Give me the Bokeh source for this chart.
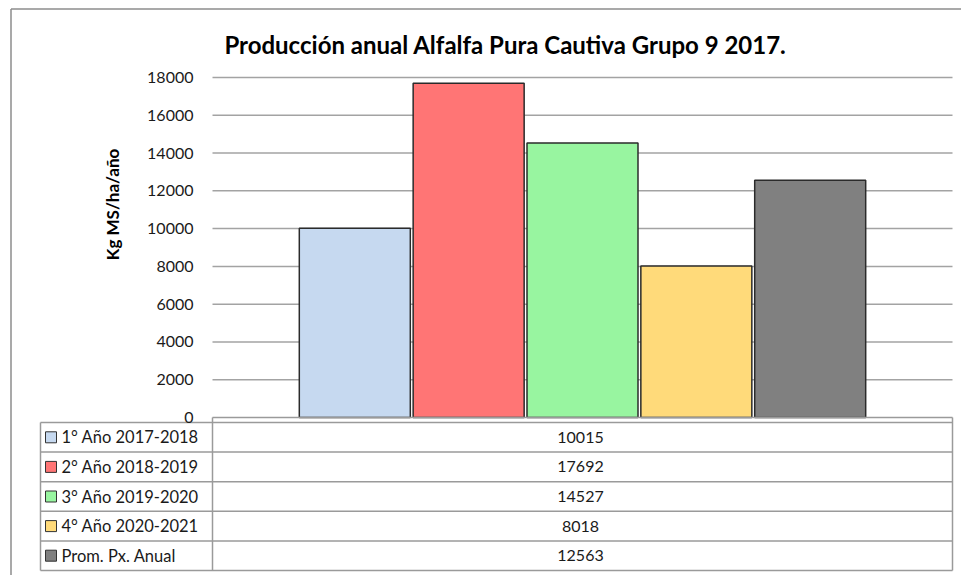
import numpy as np
from bokeh.plotting import figure
from bokeh.models import LinearAxis, FixedTicker, Range1d
from bokeh.core.properties import value
from bokeh.embed import file_html
from bokeh.resources import INLINE

# ---------------- data ----------------
title_text = "Producción anual Alfalfa Pura Cautiva Grupo 9 2017."
y_label = "Kg MS/ha/año"
series_names = ["1° Año 2017-2018", "2° Año 2018-2019", "3° Año 2019-2020",
                "4° Año 2020-2021", "Prom. Px. Anual"]
series_values = [10015, 17692, 14527, 8018, 12563]
series_colors = ["#C6D9F0", "#FF7575", "#98F5A0", "#FFDA7A", "#808080"]
y_ticks = [0, 2000, 4000, 6000, 8000, 10000, 12000, 14000, 16000, 18000]

# ---------------- layout (page pixels) ----------------
W, H = 961, 575
MARGIN = 0
PLOT_L, PLOT_R = 212, 952
PLOT_T, PLOT_B = 77, 417
Y_MAX = y_ticks[-1]
N = len(series_values)
HALF = 3.25  # half-width of the category in bar slots

ppu_x = (PLOT_R - PLOT_L) / (2 * HALF)
upp_y = Y_MAX / (PLOT_B - PLOT_T)
x_start = -HALF - (PLOT_L - MARGIN) / ppu_x
x_end = x_start + W / ppu_x
y_end = Y_MAX + (PLOT_T - MARGIN) * upp_y
y_start = y_end - H * upp_y


def dx(px):
    return x_start + (px - MARGIN) / ppu_x


def dy(py):
    return y_end - (py - MARGIN) * upp_y


FONT = "Lato"

p = figure(width=W, height=H, output_backend="svg", toolbar_location=None,
           x_range=Range1d(x_start, x_end), y_range=Range1d(y_start, y_end),
           x_axis_type=None, y_axis_type=None, min_border=0,
           min_border_left=0, min_border_right=0, min_border_top=0, min_border_bottom=0)
p.outline_line_color = None
p.xgrid.visible = False
p.ygrid.visible = False
p.background_fill_color = "white"
p.border_fill_color = "white"

# outer chart border (left + top visible)
p.segment(x0=[dx(10.5), dx(10.5)], y0=[dy(8.5), dy(8.5)],
          x1=[dx(10.5), dx(961)], y1=[dy(600), dy(8.5)],
          line_color="#8C8C8C", line_width=1.5)

# gridlines at tick values
grid_ticks = [t for t in y_ticks if t > 0]
p.segment(x0=[-HALF] * len(grid_ticks), y0=grid_ticks,
          x1=[HALF] * len(grid_ticks), y1=grid_ticks,
          line_color="#A3A3A3", line_width=1.5)

# bars
xs = np.arange(N) - (N - 1) / 2
p.vbar(x=xs, top=series_values, bottom=0, width=0.975,
       fill_color=series_colors, line_color="#2B2B2B", line_width=1.5)

# y axis
yaxis = LinearAxis(fixed_location=-HALF, ticker=FixedTicker(ticks=y_ticks),
                   axis_line_color=None, major_tick_line_color=None,
                   minor_tick_line_color=None, major_tick_in=0, major_tick_out=0,
                   major_label_standoff=19, major_label_text_font=FONT,
                   major_label_text_font_size="16px", major_label_text_color="#1A1A1A")
p.add_layout(yaxis, "left")

# title
p.text(x=[dx(505)], y=[dy(44)], text=[title_text], text_align="center",
       text_baseline="middle", text_font=value(FONT), text_font_size="24px",
       text_font_style="bold", text_color="#000000")

# y label
p.text(x=[dx(112)], y=[dy(204)], text=[y_label], angle=np.pi / 2,
       text_align="center", text_baseline="middle", text_font=value(FONT),
       text_font_size="17px", text_font_style="bold", text_color="#000000")

# ---------------- data table ----------------
TAB_L, TAB_M, TAB_R = 40, 212, 952
ROW_T, ROW_B = 422, 570
row_h = (ROW_B - ROW_T) / N
row_lines = [ROW_T + i * row_h for i in range(N + 1)]

hx0 = [dx(TAB_M)] + [dx(TAB_L)] * len(row_lines)
hx1 = [dx(TAB_R)] * (len(row_lines) + 1)
hy = [dy(PLOT_B)] + [dy(r) for r in row_lines]
p.segment(x0=hx0, y0=hy, x1=hx1, y1=hy, line_color="#9A9A9A", line_width=1.5)
p.segment(x0=[dx(TAB_L), dx(TAB_M), dx(TAB_R)],
          y0=[dy(ROW_T), dy(PLOT_B), dy(PLOT_B)],
          x1=[dx(TAB_L), dx(TAB_M), dx(TAB_R)],
          y1=[dy(ROW_B)] * 3, line_color="#9A9A9A", line_width=1.5)

centers = [ROW_T + (i + 0.5) * row_h for i in range(N)]
cy = [dy(c) for c in centers]
# legend swatches
sw = 11
p.quad(left=[dx(45)] * N, right=[dx(45 + sw)] * N,
       top=[dy(c - sw / 2) for c in centers], bottom=[dy(c + sw / 2) for c in centers],
       fill_color=series_colors, line_color="#333333", line_width=1)
p.text(x=[dx(61)] * N, y=cy, text=series_names, text_align="left",
       text_baseline="middle", text_font=value(FONT), text_font_size="16.5px",
       text_color="#1A1A1A")
p.text(x=[dx((TAB_M + TAB_R) / 2 - 2)] * N, y=cy, text=[str(v) for v in series_values],
       text_align="center", text_baseline="middle", text_font=value(FONT),
       text_font_size="16px", text_color="#1A1A1A")

open("out.html", "w").write(file_html(p, INLINE))
